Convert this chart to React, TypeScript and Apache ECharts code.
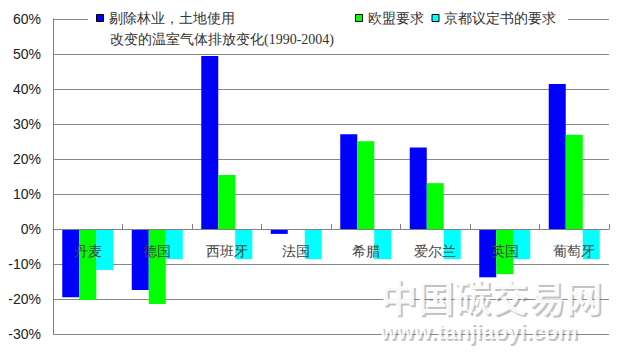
import React, { useEffect, useRef } from "react";
import * as echarts from "echarts";

const categories = ["丹麦", "德国", "西班牙", "法国", "希腊", "爱尔兰", "英国", "葡萄牙"];
const seriesNames = [
  "剔除林业，土地使用改变的温室气体排放变化(1990-2004)",
  "欧盟要求",
  "京都议定书的要求",
];
const excludingForestry = [-19.5, -17.4, 49.4, -1.4, 27.1, 23.3, -13.8, 41.4];
const euRequirement = [-20.3, -21.4, 15.4, 0, 25.1, 13.1, -12.9, 26.9];
const kyotoRequirement = [-11.7, -8.6, -8.6, -8.6, -8.6, -8.6, -8.6, -8.6];
const seriesColors = ["#0000ff", "#00ff00", "#00ffff"];
const yMin = -30;
const yMax = 60;
const yStep = 10;

export default function App() {
  const ref = useRef<HTMLDivElement>(null);

  useEffect(() => {
    document.body.style.margin = "0";
    if (!ref.current) return;
    const chart = echarts.init(ref.current, undefined, { renderer: "svg" });
    const cjk = "serif";
    const legendText = { fontSize: 14, fontFamily: cjk, color: "#333", lineHeight: 16 };
    const data = [excludingForestry, euRequirement, kyotoRequirement];
    const gridTop = 19;
    const gridBottom = 21;
    const gridHeight = 355 - gridTop - gridBottom;
    const zeroOffset = -gridHeight * (0 - yMin) / (yMax - yMin);
    const wmShadow = {
      fill: "rgba(120,120,120,0.45)",
      verticalAlign: "middle" as const,
    };
    const wmFront = {
      fill: "rgba(255,255,255,0.92)",
      verticalAlign: "middle" as const,
    };
    chart.setOption({
      animation: false,
      backgroundColor: "#fff",
      grid: {
        left: 53,
        right: 11,
        top: gridTop,
        bottom: gridBottom,
        containLabel: false,
        outerBoundsMode: "none",
      },
      legend: [
        {
          data: [seriesNames[0]],
          left: 96,
          top: 10,
          padding: 0,
          itemWidth: 7,
          itemHeight: 7,
          icon: "rect",
          itemStyle: { borderColor: "#000", borderWidth: 1 },
          formatter: () => "剔除林业，土地使用",
          textStyle: legendText,
          selectedMode: false,
        },
        {
          data: [seriesNames[1], seriesNames[2]],
          left: 355,
          top: 10,
          padding: 0,
          itemGap: 8,
          itemWidth: 7,
          itemHeight: 7,
          icon: "rect",
          itemStyle: { borderColor: "#000", borderWidth: 1 },
          textStyle: legendText,
          selectedMode: false,
        },
      ],
      xAxis: {
        type: "category",
        data: categories,
        position: "bottom",
        offset: zeroOffset,
        axisLine: { onZero: false, lineStyle: { color: "#808080", width: 1 } },
        axisTick: { show: true, inside: true, length: 5, lineStyle: { color: "#808080" } },
        axisLabel: { margin: 15, fontSize: 14, fontFamily: cjk, color: "#444" },
        splitLine: { show: false },
        z: 5,
      },
      yAxis: {
        type: "value",
        min: yMin,
        max: yMax,
        interval: yStep,
        axisLine: { show: true, lineStyle: { color: "#808080", width: 1 } },
        axisTick: { show: false },
        axisLabel: {
          margin: 12,
          fontSize: 14,
          fontFamily: "Liberation Sans, Arial, sans-serif",
          color: "#222",
          formatter: (v: number) => `${v}%`,
        },
        splitLine: { show: true, lineStyle: { color: "#888", width: 1 } },
      },
      series: seriesNames.map((name, i) => ({
        name,
        type: "bar",
        data: data[i],
        barWidth: 17,
        barGap: "0%",
        itemStyle: { color: seriesColors[i] },
      })),
      graphic: [
        {
          type: "rect",
          shape: { x: 88, y: 8, width: 480, height: 41 },
          style: { fill: "#fff" },
          z: 3,
        },
        {
          type: "text",
          x: 110,
          y: 39,
          z: 10,
          style: {
            text: "改变的温室气体排放变化(1990-2004)",
            font: "14px serif",
            fill: "#333",
            verticalAlign: "middle",
          },
        },
        {
          type: "text",
          x: 382,
          y: 298,
          z: 20,
          style: { ...wmShadow, text: "中国碳交易网", font: "bold 37px 'Noto Sans CJK SC'" },
        },
        {
          type: "text",
          x: 380,
          y: 296,
          z: 21,
          style: { ...wmFront, text: "中国碳交易网", font: "bold 37px 'Noto Sans CJK SC'" },
        },
        {
          type: "text",
          x: 382,
          y: 333,
          z: 20,
          style: {
            ...wmShadow,
            text: "www.tanjiaoyi.com",
            font: "bold 22px 'Liberation Sans', Arial, sans-serif",
          },
        },
        {
          type: "text",
          x: 380,
          y: 331,
          z: 21,
          style: {
            ...wmFront,
            text: "www.tanjiaoyi.com",
            font: "bold 22px 'Liberation Sans', Arial, sans-serif",
          },
        },
      ],
    });
    return () => chart.dispose();
  }, []);

  return <div ref={ref} style={{ width: 620, height: 355 }} />;
}
